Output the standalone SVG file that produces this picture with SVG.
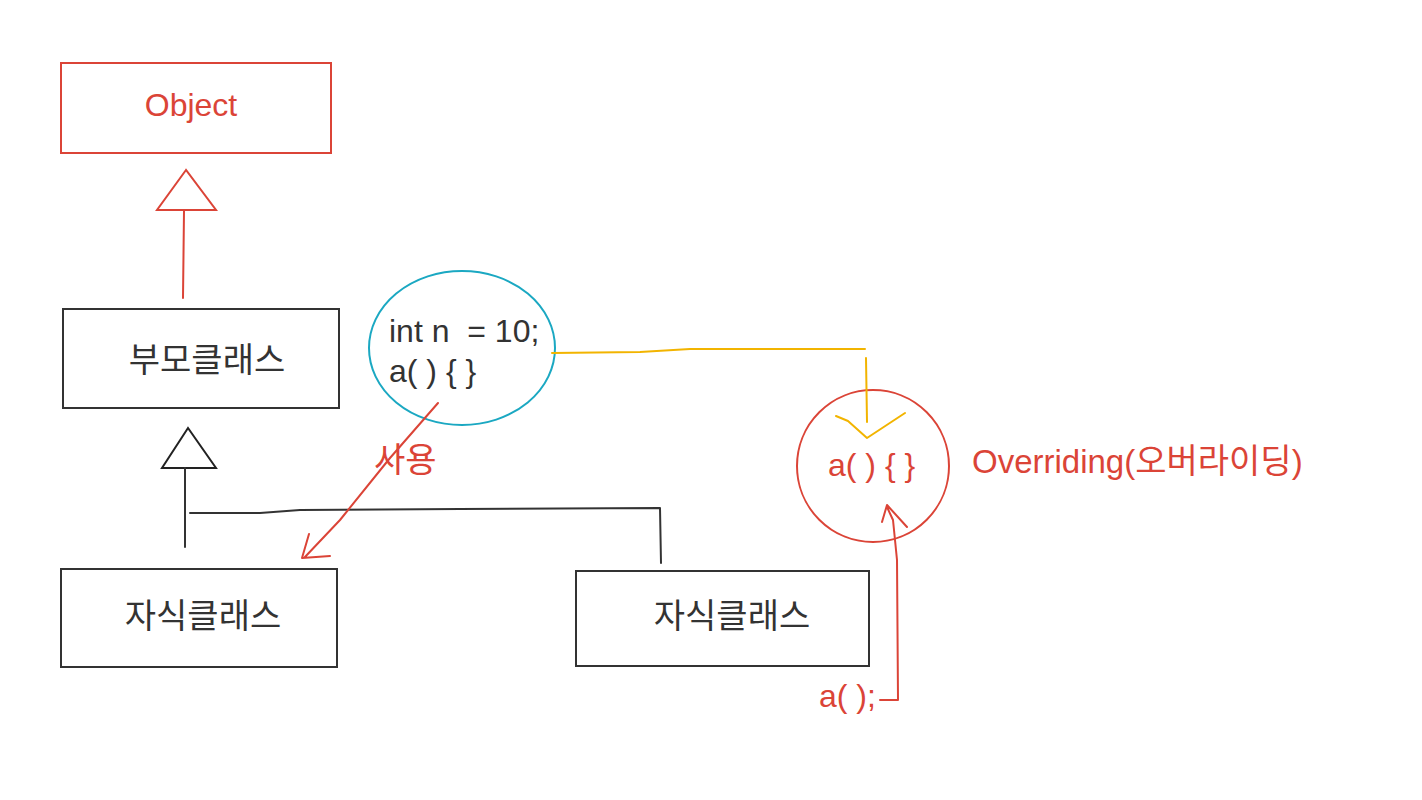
<svg xmlns="http://www.w3.org/2000/svg" width="1422" height="800" viewBox="0 0 1422 800">
<style>
text{font-family:"Liberation Sans","Noto Sans CJK KR",sans-serif;font-size:32px;white-space:pre}
.ko{font-size:34px}
.red{fill:#db4437}
.dark{fill:#333}
.box{fill:#fff;stroke:#333;stroke-width:2}
.rbox{fill:#fff;stroke:#db4437;stroke-width:2}
.ln{fill:none;stroke-width:2;stroke-linecap:round;stroke-linejoin:round}
</style>
<rect width="1422" height="800" fill="#fff"/>
<g id="object"><rect class="rbox" x="61" y="63" width="270" height="90"/><text class="red" x="191" y="116" text-anchor="middle">Object</text></g>
<g id="parent"><rect class="box" x="63" y="309" width="276" height="99"/><text class="dark ko" x="207" y="372" text-anchor="middle">부모클래스</text></g>
<g id="child1"><rect class="box" x="61" y="569" width="276" height="98"/><text class="dark ko" x="203" y="628" text-anchor="middle">자식클래스</text></g>
<g id="child2"><rect class="box" x="576" y="571" width="293" height="95"/><text class="dark ko" x="732" y="628" text-anchor="middle">자식클래스</text></g>
<g id="members"><ellipse cx="462" cy="348" rx="93" ry="77" fill="none" stroke="#1ba8c2" stroke-width="2"/><text class="dark" x="389" y="342" xml:space="preserve">int n  = 10;</text><text class="dark" x="389" y="382">a( ) { }</text></g>
<g id="override"><circle cx="873" cy="466" r="76" fill="none" stroke="#db4437" stroke-width="2"/><text class="red" x="828" y="476">a( ) { }</text><text class="red" x="972" y="473" style="font-size:33px">Overriding(<tspan class="ko">오버라이딩</tspan>)</text></g>
<g id="call"><text class="red" x="819" y="707">a( );</text></g>
<g id="use-label"><text class="red ko" x="374" y="472">사용</text></g>
<g id="connectors">
<polygon points="186,170 157,210 216,210" fill="none" stroke="#db4437" stroke-width="2"/>
<path class="ln" stroke="#db4437" d="M184,211 L183,298"/>
<polygon points="188,428 162,468 216,468" fill="none" stroke="#222" stroke-width="2"/>
<path class="ln" stroke="#333" d="M185,468 L185,547 M190,513 L260,513 L300,510 L460,509 L660,508 L661,563"/>
<path class="ln" stroke="#db4437" d="M438,403 L390,458 L340,520 L304,558 M309,534 L302,558 L330,556"/>
<path class="ln" stroke="#f2b400" d="M552,353 L640,352 L690,349 L865,349 M866,358 L867,422 M836,416 L848,421 L867,438 L905,413"/>
<path class="ln" stroke="#db4437" d="M880,700 L898,700 L897,560 L893,520 L887,507 M882,522 L887,505 L907,527"/>
</g>
</svg>
